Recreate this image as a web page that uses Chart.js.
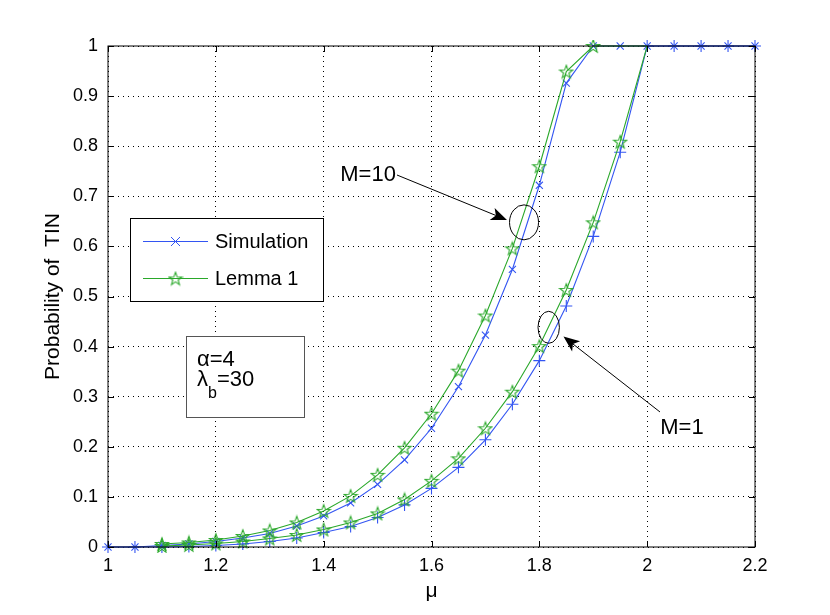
<!DOCTYPE html>
<html>
<head>
<meta charset="utf-8">
<script src="https://cdn.jsdelivr.net/npm/chart.js@4.4.0/dist/chart.umd.min.js"></script>
<style>
  html, body { margin: 0; padding: 0; background: #fff; }
</style>
</head>
<body>
<canvas id="tinChart" width="830" height="615"></canvas>
<script>
// mu values of the simulation runs
const muSim = [1.00, 1.05, 1.10, 1.15, 1.20, 1.25, 1.30, 1.35, 1.40, 1.45, 1.50, 1.55, 1.60,
               1.65, 1.70, 1.75, 1.80, 1.85, 1.90, 1.95, 2.00, 2.05, 2.10, 2.15, 2.20];
// simulated probability of TIN, M=10 and M=1
const simM10 = [0, 0, 0.003, 0.006, 0.011, 0.018, 0.027, 0.042, 0.062, 0.088, 0.125, 0.174, 0.237,
                0.320, 0.423, 0.554, 0.722, 0.926, 1, 1, 1, 1, 1, 1, 1];
const simM1 = [0, 0, 0, 0.001, 0.003, 0.006, 0.011, 0.018, 0.029, 0.041, 0.059, 0.084, 0.117,
               0.159, 0.214, 0.285, 0.372, 0.481, 0.620, 0.788, 1, 1, 1, 1, 1];

// mu values of the analytical curve (Lemma 1)
const muLemma = [1.10, 1.15, 1.20, 1.25, 1.30, 1.35, 1.40, 1.45, 1.50, 1.55, 1.60, 1.65, 1.70,
                 1.75, 1.80, 1.85, 1.90, 1.95, 2.00];
const lemmaM10 = [0.006, 0.009, 0.014, 0.022, 0.033, 0.049, 0.072, 0.102, 0.144, 0.198, 0.266,
                  0.352, 0.462, 0.596, 0.760, 0.949, 1, 1, 1];
const lemmaM1 = [0.002, 0.004, 0.007, 0.011, 0.017, 0.024, 0.035, 0.049, 0.067, 0.095, 0.132,
                 0.177, 0.237, 0.310, 0.401, 0.513, 0.648, 0.809, 1];
// how many lemma points carry a marker
const lemmaM10Marked = 17;
const lemmaM1Marked = 18;

// axis ticks
const xTicks = [1, 1.2, 1.4, 1.6, 1.8, 2, 2.2];
const yTicks = [0, 0.1, 0.2, 0.3, 0.4, 0.5, 0.6, 0.7, 0.8, 0.9, 1];

const BLUE = '#3355f2';
const GREEN = '#2aa82a';
const FONT = '"Liberation Sans", Arial, Helvetica, sans-serif';

// pentagram marker for the lemma curves
function makeStar(color) {
    const c = document.createElement('canvas');
    c.width = 16; c.height = 16;
    const g = c.getContext('2d');
    g.beginPath();
    for (let i = 0; i < 10; i++) {
        const r = i % 2 === 0 ? 6.8 : 2.8;
        const a = -Math.PI / 2 + i * Math.PI / 5;
        const px = 8 + r * Math.cos(a), py = 8.6 + r * Math.sin(a);
        if (i === 0) g.moveTo(px, py); else g.lineTo(px, py);
    }
    g.closePath();
    g.strokeStyle = color;
    g.lineWidth = 1.1;
    g.stroke();
    return c;
}
const starImg = makeStar(GREEN);

const toPoints = (xs, ys) => xs.map((x, i) => ({ x: x, y: ys[i] }));
const markerRadius = (n, marked, r) => Array.from({ length: n }, (_, i) => i < marked ? r : 0);

// frame with inward ticks, MATLAB style
const framePlugin = {
    id: 'frame',
    afterDatasetsDraw(chart) {
        const { ctx, chartArea: a, scales: { x, y } } = chart;
        ctx.save();
        ctx.strokeStyle = '#000';
        ctx.lineWidth = 1;
        ctx.strokeRect(a.left, a.top, a.right - a.left, a.bottom - a.top);
        ctx.beginPath();
        const tl = 6;
        xTicks.forEach(v => {
            const px = Math.round(x.getPixelForValue(v)) + 0.5;
            ctx.moveTo(px, a.bottom); ctx.lineTo(px, a.bottom - tl);
            ctx.moveTo(px, a.top); ctx.lineTo(px, a.top + tl);
        });
        yTicks.forEach(v => {
            const py = Math.round(y.getPixelForValue(v)) + 0.5;
            ctx.moveTo(a.left, py); ctx.lineTo(a.left + tl, py);
            ctx.moveTo(a.right, py); ctx.lineTo(a.right - tl, py);
        });
        ctx.stroke();
        ctx.restore();
    }
};

function arrow(ctx, x1, y1, x2, y2) {
    const ang = Math.atan2(y2 - y1, x2 - x1);
    const len = 16, half = 6.5, back = 4;
    ctx.beginPath();
    ctx.moveTo(x1, y1);
    ctx.lineTo(x2 - Math.cos(ang) * (len - back), y2 - Math.sin(ang) * (len - back));
    ctx.stroke();
    const bx = x2 - Math.cos(ang) * len, by = y2 - Math.sin(ang) * len;
    const nx = -Math.sin(ang), ny = Math.cos(ang);
    const cx = x2 - Math.cos(ang) * (len - back), cy = y2 - Math.sin(ang) * (len - back);
    ctx.beginPath();
    ctx.moveTo(x2, y2);
    ctx.lineTo(bx + nx * half, by + ny * half);
    ctx.lineTo(cx, cy);
    ctx.lineTo(bx - nx * half, by - ny * half);
    ctx.closePath();
    ctx.fill();
}

// annotations, legend and parameter box
const overlayPlugin = {
    id: 'overlay',
    afterDraw(chart) {
        const { ctx, scales: { x, y } } = chart;
        const X = v => x.getPixelForValue(v), Y = v => y.getPixelForValue(v);
        ctx.save();
        ctx.strokeStyle = '#000';
        ctx.fillStyle = '#000';
        ctx.lineWidth = 1;

        // M=10 group
        ctx.beginPath();
        ctx.ellipse(X(1.7716), Y(0.648), 14.5, 17.5, 0, 0, Math.PI * 2);
        ctx.stroke();
        arrow(ctx, X(1.536), Y(0.7425), X(1.740), Y(0.6527));
        // M=1 group
        ctx.beginPath();
        ctx.ellipse(X(1.8174), Y(0.4385), 10.7, 16, 0, 0, Math.PI * 2);
        ctx.stroke();
        arrow(ctx, X(2.0238), Y(0.2695), X(1.8448), Y(0.420));

        ctx.font = '22px ' + FONT;
        ctx.textBaseline = 'middle';
        ctx.textAlign = 'right';
        ctx.fillText('M=10', X(1.534), Y(0.7425));
        ctx.textAlign = 'center';
        ctx.fillText('M=1', X(2.0646), Y(0.2375));

        // legend
        ctx.fillStyle = '#fff';
        ctx.fillRect(130.5, 218.5, 193, 83);
        ctx.strokeRect(130.5, 218.5, 193, 83);
        ctx.lineWidth = 1;
        ctx.strokeStyle = BLUE;
        ctx.beginPath();
        ctx.moveTo(143, 241.5); ctx.lineTo(208, 241.5);
        ctx.moveTo(171, 237); ctx.lineTo(180, 246);
        ctx.moveTo(180, 237); ctx.lineTo(171, 246);
        ctx.stroke();
        ctx.strokeStyle = GREEN;
        ctx.beginPath();
        ctx.moveTo(143, 278.5); ctx.lineTo(208, 278.5);
        ctx.stroke();
        ctx.drawImage(starImg, 175.5 - 8, 278.5 - 8);
        ctx.fillStyle = '#000';
        ctx.textAlign = 'left';
        ctx.font = '20px ' + FONT;
        ctx.fillText('Simulation', 215, 242);
        ctx.fillText('Lemma 1', 215, 279);

        // parameter box
        ctx.fillStyle = '#fff';
        ctx.strokeStyle = '#555';
        ctx.fillRect(186.5, 336.5, 118, 81);
        ctx.strokeRect(186.5, 336.5, 118, 81);
        ctx.fillStyle = '#000';
        ctx.textBaseline = 'alphabetic';
        ctx.font = '22px ' + FONT;
        ctx.fillText('\u03b1=4', 197, 366);
        ctx.fillText('\u03bb', 197, 386);
        const lw = ctx.measureText('\u03bb').width;
        ctx.font = '16px ' + FONT;
        ctx.fillText('b', 197 + lw, 398);
        const bw = ctx.measureText('b').width;
        ctx.font = '22px ' + FONT;
        ctx.fillText('=30', 197 + lw + bw, 386);
        ctx.restore();
    }
};

const ctx = document.getElementById('tinChart').getContext('2d');
const tinChart = new Chart(ctx, {
    type: 'line',
    data: {
        datasets: [
            {
                label: 'Simulation M=10',
                data: toPoints(muSim, simM10),
                borderColor: BLUE,
                pointStyle: 'crossRot',
                pointRadius: 5,
                order: 2
            },
            {
                label: 'Simulation M=1',
                data: toPoints(muSim, simM1),
                borderColor: BLUE,
                pointStyle: 'cross',
                pointRadius: 6,
                order: 2
            },
            {
                label: 'Lemma 1 M=10',
                data: toPoints(muLemma, lemmaM10),
                borderColor: GREEN,
                pointStyle: starImg,
                pointRadius: markerRadius(muLemma.length, lemmaM10Marked, 6),
                order: 1
            },
            {
                label: 'Lemma 1 M=1',
                data: toPoints(muLemma, lemmaM1),
                borderColor: GREEN,
                pointStyle: starImg,
                pointRadius: markerRadius(muLemma.length, lemmaM1Marked, 6),
                order: 1
            }
        ].map(d => Object.assign({
            borderWidth: 1.1,
            pointBorderColor: d.borderColor,
            pointBorderWidth: 1.1,
            pointBackgroundColor: 'transparent',
            backgroundColor: 'transparent',
            tension: 0,
            fill: false,
            clip: 6
        }, d))
    },
    options: {
        responsive: false,
        animation: false,
        events: [],
        layout: { padding: { top: 46, right: 75, left: 0, bottom: 0 } },
        plugins: { legend: { display: false }, tooltip: { enabled: false } },
        scales: {
            x: {
                type: 'linear',
                min: 1,
                max: 2.2,
                afterBuildTicks: s => { s.ticks = xTicks.map(v => ({ value: v })); },
                afterFit: s => { s.height = 68; },
                grid: { color: '#000', lineWidth: 1, drawTicks: false },
                border: { display: false, dash: [1, 4] },
                ticks: {
                    padding: 8,
                    color: '#000',
                    font: { family: FONT, size: 18 },
                    maxRotation: 0,
                    callback: v => String(Math.round(v * 10) / 10)
                },
                title: {
                    display: true,
                    text: '\u03bc',
                    color: '#000',
                    font: { family: FONT, size: 21 },
                    padding: { top: 0, bottom: 11 }
                }
            },
            y: {
                min: 0,
                max: 1,
                afterBuildTicks: s => { s.ticks = yTicks.map(v => ({ value: v })); },
                afterFit: s => { s.width = 108; },
                grid: { color: '#000', lineWidth: 1, drawTicks: false },
                border: { display: false, dash: [1, 4] },
                ticks: {
                    padding: 10,
                    color: '#000',
                    font: { family: FONT, size: 18 },
                    callback: v => String(Math.round(v * 10) / 10)
                },
                title: {
                    display: true,
                    text: 'Probability of  TIN',
                    color: '#000',
                    font: { family: FONT, size: 21 },
                    padding: { top: 41, bottom: 0 }
                }
            }
        }
    },
    plugins: [framePlugin, overlayPlugin]
});
</script>
</body>
</html>
